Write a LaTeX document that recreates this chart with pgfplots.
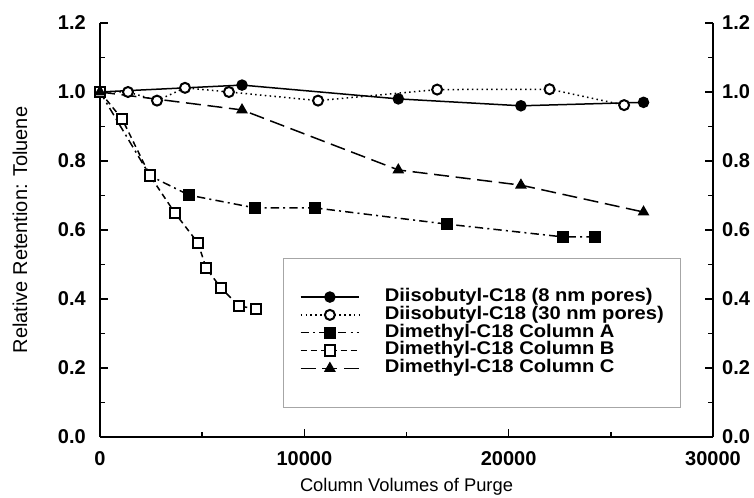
\documentclass[border=0pt]{standalone}
\usepackage{pgfplots}
\pgfplotsset{compat=1.18}
\usepackage{fontspec}
\setmainfont{Liberation Sans}
\newfontfamily\legfont[FakeStretch=1.1]{Liberation Sans}

\pgfplotsset{common/.style={
  scale only axis, width=367.8pt, height=248.4pt,
  xmin=0, xmax=30000, ymin=0, ymax=1.2,
  ytick={0,0.2,0.4,0.6,0.8,1.0,1.2}, minor y tick num=1,
  xtick={0,10000,20000,30000}, minor x tick num=1,
  scaled x ticks=false,
  /pgf/number format/assume math mode=true,
  xticklabel style={/pgf/number format/1000 sep={}, font=\bfseries\fontsize{12}{14}\selectfont, yshift=-5pt},
  yticklabel style={/pgf/number format/fixed,/pgf/number format/fixed zerofill,/pgf/number format/precision=1, font=\bfseries\fontsize{12}{14}\selectfont},
  tick align=inside, major tick length=5pt, minor tick length=3pt,
  axis line style={line width=1.2pt},
  every tick/.style={line width=0.8pt, black},
  clip=false,
}}

\begin{document}
\begin{tikzpicture}
\begin{axis}[common, name=main,
  axis x line*=bottom, axis y line*=left,
  yticklabel style={xshift=-5pt},
  xlabel={Column Volumes of Purge},
  ylabel={Relative Retention: Toluene},
  xlabel style={at={(axis description cs:0.5,-0.121)}, anchor=center, font=\fontsize{11}{13}\selectfont},
  ylabel style={at={(axis description cs:-0.1305,0.5)}, anchor=center, rotate=0, font=\fontsize{12}{14}\selectfont},
  legend cell align=left,
  legend image code/.code={\draw[mark repeat=2,mark phase=2] plot coordinates {(0pt,0pt) (17.5pt,0pt) (35pt,0pt)};},
  legend style={at={(0.2985,0.432)}, anchor=north west, draw=black!35, line width=0.4pt,
    inner xsep=10pt, inner ysep=18pt, column sep=15pt, row sep=0.4pt,
    font=\legfont\bfseries\fontsize{11}{12}\selectfont,
    nodes={inner xsep=0pt, inner ysep=0.2pt, text height=7.6pt, text depth=2.3pt}},
]
\addplot[black, line width=0.9pt, solid, mark=*, mark size=3pt, mark options={solid}]
  coordinates {(0,1.0)(6950,1.02)(14600,0.98)(20600,0.96)(26600,0.97)};
\addlegendentry{Diisobutyl-C18 (8 nm pores)}
\addplot[black, line width=0.9pt, dotted, mark=*, mark size=3pt, mark options={solid, fill=white, line width=1.2pt}]
  coordinates {(0,1.0)(1370,1.0)(2790,0.975)(4160,1.012)(6310,1.0)(10670,0.975)(16500,1.007)(22000,1.008)(25650,0.962)};
\addlegendentry{Diisobutyl-C18 (30 nm pores)}
\addplot[black, line width=0.9pt, dash pattern=on 5pt off 2.5pt on 1.2pt off 2.5pt, mark=square*, mark size=3.2pt, mark options={solid}]
  coordinates {(0,1.0)(2450,0.757)(4360,0.701)(7590,0.664)(10520,0.664)(16980,0.617)(22660,0.58)(24230,0.58)};
\addlegendentry{Dimethyl-C18 Column A}
\addplot[black, line width=0.9pt, dash pattern=on 3.5pt off 2.5pt, mark=square*, mark size=3.2pt, mark options={solid, fill=white, line width=1.2pt}]
  coordinates {(0,1.0)(1080,0.922)(2450,0.757)(3670,0.649)(4800,0.562)(5190,0.49)(5920,0.432)(6800,0.38)(7630,0.371)};
\addlegendentry{Dimethyl-C18 Column B}
\addplot[black, line width=0.9pt, dash pattern=on 9pt off 4pt, mark=triangle*, mark size=3.2pt, mark options={solid}]
  coordinates {(0,1.0)(6950,0.948)(14600,0.774)(20600,0.73)(26600,0.652)};
\addlegendentry{Dimethyl-C18 Column C}
\end{axis}
\begin{axis}[common,
  axis y line*=right, axis x line=none,
  yticklabel style={xshift=2pt},
]
\addplot[draw=none] coordinates {(0,0)};
\end{axis}
\pgfresetboundingbox
\path[use as bounding box] ([xshift=-60pt,yshift=-36.6pt]main.south west) rectangle ([xshift=24.6pt,yshift=13.8pt]main.north east);
\end{tikzpicture}
\end{document}
